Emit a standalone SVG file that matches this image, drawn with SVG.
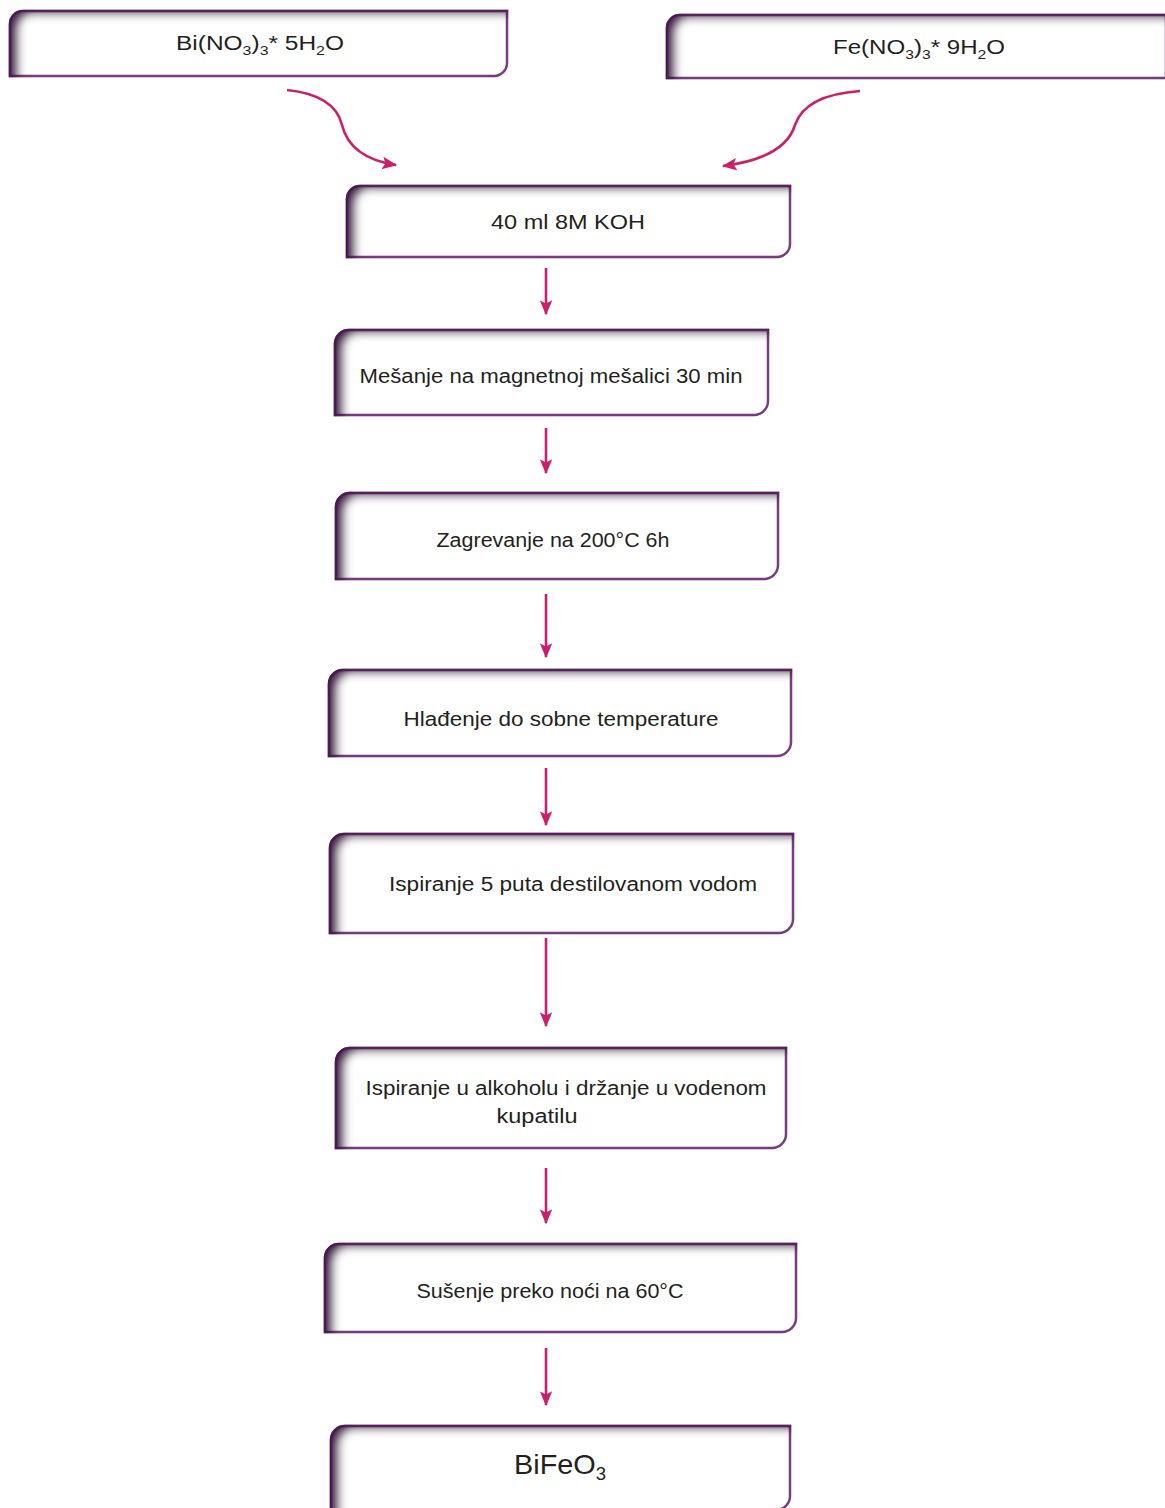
<svg xmlns="http://www.w3.org/2000/svg" width="1165" height="1508" viewBox="0 0 1165 1508">
<style>
.box{fill:#ffffff;stroke:#7a3d80;stroke-width:2.5;filter:url(#inner)}
.t{font-family:"Liberation Sans","Open Sans",sans-serif;font-size:20px;fill:#231f20;text-anchor:middle}
.c{fill:none;stroke:#cc1f6b;stroke-width:2.6;marker-end:url(#ah)}
</style>
<defs>
<filter id="inner" x="-5%" y="-20%" width="110%" height="140%">
<feFlood flood-color="#4a1f4f" result="f"/>
<feComposite in="f" in2="SourceAlpha" operator="out" result="o"/>
<feOffset in="o" dx="10" dy="5" result="off"/>
<feGaussianBlur in="off" stdDeviation="4.5" result="b"/>
<feComposite in="b" in2="SourceAlpha" operator="in" result="s"/>
<feMerge><feMergeNode in="SourceGraphic"/><feMergeNode in="s"/></feMerge>
</filter>
<marker id="ah" viewBox="0 0 12 10" refX="11" refY="5" markerWidth="15" markerHeight="13" markerUnits="userSpaceOnUse" orient="auto">
<path d="M0,0 L12,5 L0,10 L2.5,5 Z" fill="#cc1f6b"/>
</marker>
</defs>

<g id="n-bi">
<path class="box" d="M10,24 A13,13 0 0 1 23,11 H507 V63 A13,13 0 0 1 494,76 H10 Z"/>
<text class="t" x="260" y="50" textLength="168" lengthAdjust="spacingAndGlyphs">Bi(NO<tspan font-size="13" dy="5">3</tspan><tspan dy="-5">)</tspan><tspan font-size="13" dy="5">3</tspan><tspan dy="-5">* 5H</tspan><tspan font-size="13" dy="5">2</tspan><tspan dy="-5">O</tspan></text>
</g>

<g id="n-fe">
<path class="box" d="M667,28 A13,13 0 0 1 680,15 H1166 V78 H667 Z"/>
<text class="t" x="919" y="54" textLength="172" lengthAdjust="spacingAndGlyphs">Fe(NO<tspan font-size="13" dy="5">3</tspan><tspan dy="-5">)</tspan><tspan font-size="13" dy="5">3</tspan><tspan dy="-5">* 9H</tspan><tspan font-size="13" dy="5">2</tspan><tspan dy="-5">O</tspan></text>
</g>

<g id="n-koh">
<path class="box" d="M347,199 A13,13 0 0 1 360,186 H790 V244 A13,13 0 0 1 777,257 H347 Z"/>
<text class="t" x="568" y="229" textLength="154" lengthAdjust="spacingAndGlyphs">40 ml 8M KOH</text>
</g>

<g id="n-mesanje">
<path class="box" d="M335,344 A14,14 0 0 1 349,330 H768 V401 A14,14 0 0 1 754,415 H335 Z"/>
<text class="t" x="551" y="383" textLength="383" lengthAdjust="spacingAndGlyphs">Mešanje na magnetnoj mešalici 30 min</text>
</g>

<g id="n-zagrevanje">
<path class="box" d="M336,507 A14,14 0 0 1 350,493 H778 V565 A14,14 0 0 1 764,579 H336 Z"/>
<text class="t" x="553" y="547" textLength="233" lengthAdjust="spacingAndGlyphs">Zagrevanje na 200°C 6h</text>
</g>

<g id="n-hladjenje">
<path class="box" d="M329,684 A14,14 0 0 1 343,670 H791 V742 A14,14 0 0 1 777,756 H329 Z"/>
<text class="t" x="561" y="726" textLength="315" lengthAdjust="spacingAndGlyphs">Hlađenje do sobne temperature</text>
</g>

<g id="n-ispiranje5">
<path class="box" d="M330,848 A14,14 0 0 1 344,834 H793 V919 A14,14 0 0 1 779,933 H330 Z"/>
<text class="t" x="573" y="891" textLength="368" lengthAdjust="spacingAndGlyphs">Ispiranje 5 puta destilovanom vodom</text>
</g>

<g id="n-alkohol">
<path class="box" d="M336,1062 A14,14 0 0 1 350,1048 H786 V1134 A14,14 0 0 1 772,1148 H336 Z"/>
<text class="t" x="566" y="1095" textLength="401" lengthAdjust="spacingAndGlyphs">Ispiranje u alkoholu i držanje u vodenom</text>
<text class="t" x="537" y="1123" textLength="81" lengthAdjust="spacingAndGlyphs">kupatilu</text>
</g>

<g id="n-susenje">
<path class="box" d="M325,1258 A14,14 0 0 1 339,1244 H796 V1318 A14,14 0 0 1 782,1332 H325 Z"/>
<text class="t" x="550" y="1298" textLength="267" lengthAdjust="spacingAndGlyphs">Sušenje preko noći na 60°C</text>
</g>

<g id="n-bifeo3">
<path class="box" d="M331,1440 A14,14 0 0 1 345,1426 H790 V1496 A14,14 0 0 1 776,1510 H331 Z"/>
<text class="t" x="560" y="1474" style="font-size:28px" textLength="92" lengthAdjust="spacingAndGlyphs">BiFeO<tspan style="font-size:18px" dy="6">3</tspan></text>
</g>

<g id="connectors">
<path class="c" d="M287,90 Q335,95 342,125 Q350,158 396,165"/>
<path class="c" d="M860,91 Q805,95 795,125 Q785,158 723,166"/>
<path class="c" d="M546,268 V314"/>
<path class="c" d="M546,428 V473"/>
<path class="c" d="M546,594 V657"/>
<path class="c" d="M546,768 V825"/>
<path class="c" d="M546,938 V1026"/>
<path class="c" d="M546,1168 V1223"/>
<path class="c" d="M546,1348 V1405"/>
</g>
</svg>
